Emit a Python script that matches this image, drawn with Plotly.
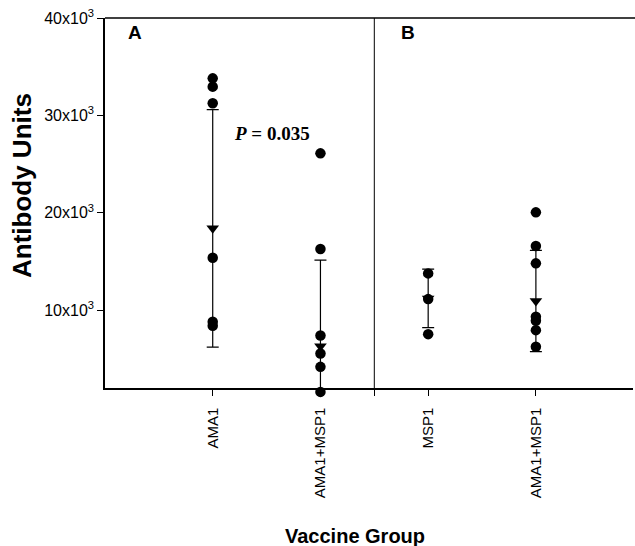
import plotly.graph_objects as go

# ---- data ----
categories = ["AMA1", "AMA1+MSP1", "MSP1", "AMA1+MSP1"]
cat_pos = [1, 2, 3, 4]
panel_labels = ["A", "B"]

ama1_A = [33800, 32950, 31240, 15380, 8800, 8390]
combo_A = [26100, 16270, 7400, 5550, 4170, 1600]
msp1_B = [13770, 11130, 7530]
combo_B = [20040, 16580, 14800, 9310, 8900, 7940, 6230]
groups = [ama1_A, combo_A, msp1_B, combo_B]

means = [18400, 6300, 11200, 10930]
sds = [12200, 8840, 3000, 5200]

y_min, y_max = 2000, 40000
y_tickvals = [10000, 20000, 30000, 40000]
y_ticktext = ["10x10<sup>3</sup>", "20x10<sup>3</sup>", "30x10<sup>3</sup>", "40x10<sup>3</sup>"]
p_text = "<i>P</i> = 0.035"

FONT = "Arial, Liberation Sans, Helvetica, sans-serif"
CLEAR = "rgba(0,0,0,0)"

# layout geometry (pixels)
W, H = 635, 546
L, T, B = 105, 18, 146          # plot area incl. a strip below the axis for overhanging dots
axis_bottom_px = 388
area_h = H - T - B
d = ((H - B) - axis_bottom_px) / area_h     # fraction of area below the axis line
y2_min = y_min - (y_max - y_min) * d / (1 - d)

fig = go.Figure()

# mean +/- SD
fig.add_trace(go.Scatter(
    x=cat_pos, y=means, mode="markers", xaxis="x", yaxis="y",
    marker=dict(symbol="triangle-down", size=11, color="black"),
    error_y=dict(type="data", array=sds, visible=True, color="black",
                 thickness=1.2, width=6),
    cliponaxis=True, showlegend=False, hoverinfo="skip"))

# individual values (on an invisible twin axis with the same scale, so dots
# just below the axis line stay visible)
for pos, vals in zip(cat_pos, groups):
    fig.add_trace(go.Scatter(
        x=[pos] * len(vals), y=vals, mode="markers", xaxis="x", yaxis="y2",
        marker=dict(symbol="circle", size=10.5, color="black"),
        cliponaxis=False, showlegend=False))

# white cover for the right edge of the plot area (no right frame in the original)
fig.add_shape(type="line", x0=1, x1=1, y0=0, y1=1, xref="paper", yref="paper",
              layer="above", line=dict(color="white", width=4))
# divider between panels
fig.add_shape(type="line", x0=2.5, x1=2.5, y0=y_min, y1=y_max,
              xref="x", yref="y", line=dict(color="black", width=1))
# top border
fig.add_shape(type="line", x0=0, x1=1, y0=1, y1=1, xref="paper", yref="paper",
              layer="above", line=dict(color="black", width=1.5))

fig.add_annotation(x=0.28, y=38460, text="<b>" + panel_labels[0] + "</b>", showarrow=False,
                   font=dict(family=FONT, size=19, color="black"))
fig.add_annotation(x=2.81, y=38460, text="<b>" + panel_labels[1] + "</b>", showarrow=False,
                   font=dict(family=FONT, size=19, color="black"))
fig.add_annotation(x=1.55, y=28180, text="<b>" + p_text + "</b>", showarrow=False,
                   font=dict(family="Liberation Serif, Times New Roman, serif", size=19, color="black"))

fig.add_annotation(x=-(L - 22) / (W - L), xref="paper", xanchor="center",
                   y=(H - B - 186) / area_h, yref="paper", yanchor="middle",
                   text="<b>Antibody Units</b>", textangle=-90, showarrow=False,
                   font=dict(family=FONT, size=26, color="black"))
fig.add_annotation(x=(354.5 - L) / (W - L), xref="paper", xanchor="center",
                   y=-(536 - (H - B)) / area_h, yref="paper", yanchor="middle",
                   text="<b>Vaccine Group</b>", showarrow=False,
                   font=dict(family=FONT, size=20, color="black"))

fig.update_layout(
    width=W, height=H,
    margin=dict(l=L, r=0, t=T, b=B),
    plot_bgcolor=CLEAR, paper_bgcolor="white",
    xaxis=dict(range=[0, 4.92], tickvals=[1, 2, 2.5, 3, 4],
               ticktext=[categories[0], categories[1], "", categories[2], categories[3]],
               tickangle=-90, ticks="outside", ticklen=6, tickcolor="black",
               ticklabelstandoff=6,
               showline=True, linecolor="black", linewidth=1.5, mirror=False,
               showgrid=False, zeroline=False, anchor="y",
               tickfont=dict(family=FONT, size=15, color="black")),
    yaxis=dict(range=[y_min, y_max], domain=[d, 1], tickvals=y_tickvals, ticktext=y_ticktext,
               ticks="outside", ticklen=6, tickcolor="black", mirror=False,
               showline=True, linecolor="black", linewidth=1.5,
               showgrid=False, zeroline=False,
               tickfont=dict(family=FONT, size=16, color="black")),
    yaxis2=dict(range=[y2_min, y_max], domain=[0, 1], visible=False, anchor="x",
                showline=False, linecolor=CLEAR, tickcolor=CLEAR,
                showgrid=False, zeroline=False, ticks="", showticklabels=False),
)

fig.write_html(
    "out.html", config={"displayModeBar": False},
    post_script=("document.body.style.margin='0px';"
                 "document.body.style.overflow='hidden';"
                 "document.documentElement.style.overflow='hidden';"))
